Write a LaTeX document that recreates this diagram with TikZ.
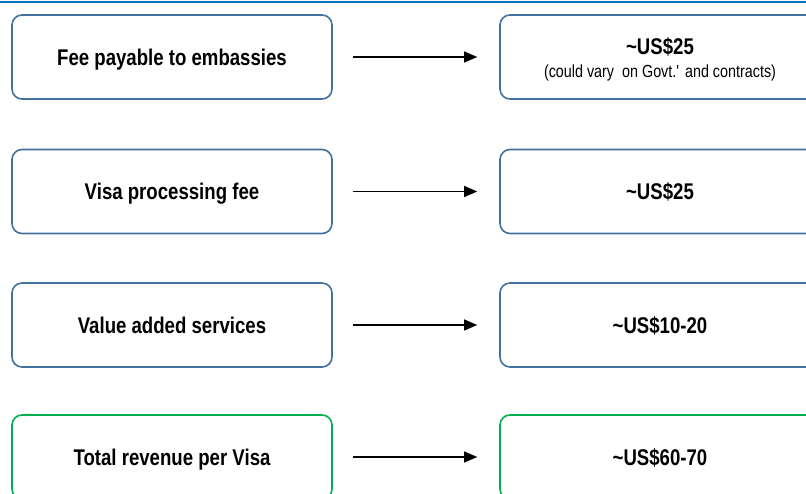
\documentclass[tikz,border=0pt]{standalone}
\usepackage{fontspec}
\setmainfont{Liberation Sans}[FakeStretch=0.82]
\usetikzlibrary{arrows.meta}
\definecolor{boxblue}{HTML}{41719C}
\definecolor{boxgreen}{HTML}{00B050}
\definecolor{topline}{HTML}{0070C0}
\begin{document}
\begin{tikzpicture}[x=1pt, y=-1pt,
  cell/.style={draw=boxblue, line width=1.6pt, rounded corners=10pt, fill=white,
    minimum width=320pt, minimum height=84pt, inner sep=0pt, align=center,
    text height=16.3pt, text depth=0pt,
    font=\fontsize{22.7}{26}\selectfont\bfseries},
  sum/.style={cell, draw=boxgreen},
  link/.style={-{Triangle[length=13pt,width=11pt]}, line width=1.1pt,
    shorten <=20pt, shorten >=22pt}]
\useasboundingbox (0,0) rectangle (806,493);
\clip (0,0) rectangle (806,493);
\draw[topline, line width=1.5pt] (0,2) -- (806,2);
\node[cell] (item0) at (172,57){Fee payable to embassies};
\node[cell] (item1) at (172,191.5){Visa processing fee};
\node[cell] (item2) at (172,325){Value added services};
\node[sum] (item3) at (172,457){Total revenue per Visa};
\node[cell, text height=40pt, text depth=0pt] (cost0) at (660,57){\textasciitilde US\$25\\[-3pt]
  {\fontsize{17.5}{20}\selectfont\mdseries (could vary\ \ on Govt.\textquotesingle{} and contracts)}};
\node[cell] (cost1) at (660,191.5){\textasciitilde US\$25};
\node[cell] (cost2) at (660,325){\textasciitilde US\$10-20};
\node[sum] (cost3) at (660,457){\textasciitilde US\$60-70};
\draw[link](item0) -- (cost0);
\draw[link](item1) -- (cost1);
\draw[link](item2) -- (cost2);
\draw[link](item3) -- (cost3);
\end{tikzpicture}
\end{document}
